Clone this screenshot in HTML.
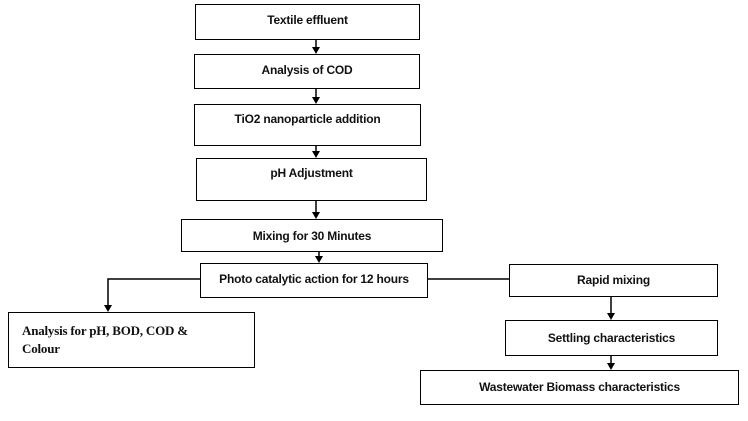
<!DOCTYPE html>
<html><head><meta charset="utf-8"><style>
body{margin:0;width:748px;height:421px;background:#fff;position:relative;overflow:hidden;font-family:"Liberation Sans",sans-serif;}
.b{position:absolute;border:1.5px solid #000;box-sizing:border-box;font-size:12px;font-weight:bold;text-align:center;color:#111;letter-spacing:-0.2px}
.l{position:absolute;background:#000}
svg{position:absolute;left:0;top:0}
</style></head><body>
<div class="b" style="left:195px;top:4px;width:225px;height:36px;padding-top:8px">Textile effluent</div>
<div class="b" style="left:194px;top:54px;width:226px;height:35px;padding-top:8px">Analysis of COD</div>
<div class="b" style="left:194px;top:104px;width:227px;height:42px;padding-top:7px">TiO2 nanoparticle addition</div>
<div class="b" style="left:196px;top:158px;width:231px;height:43px;padding-top:7px">pH Adjustment</div>
<div class="b" style="left:181px;top:219px;width:262px;height:33px;padding-top:9px">Mixing for 30 Minutes</div>
<div class="b" style="left:200px;top:263px;width:228px;height:35px;padding-top:8px">Photo catalytic action for 12 hours</div>
<div class="b" style="left:8px;top:312px;width:247px;height:56px;padding:9px 0 0 13px;text-align:left;font-family:'Liberation Serif',serif;font-size:13px;line-height:18px">Analysis for pH, BOD, COD &amp;<br>Colour</div>
<div class="b" style="left:509px;top:264px;width:209px;height:33px;padding-top:8px">Rapid mixing</div>
<div class="b" style="left:505px;top:320px;width:213px;height:36px;padding-top:10px">Settling characteristics</div>
<div class="b" style="left:420px;top:370px;width:319px;height:35px;padding-top:9px">Wastewater Biomass characteristics</div>
<svg width="748" height="421">
<g stroke="#000" stroke-width="1.5" fill="none">
<line x1="316" y1="40" x2="316" y2="48"/>
<line x1="316" y1="89" x2="316" y2="98"/>
<line x1="316" y1="146" x2="316" y2="152"/>
<line x1="316" y1="201" x2="316" y2="213"/>
<line x1="319" y1="252" x2="319" y2="257"/>
<polyline points="200,279 108,279 108,306"/>
<line x1="428" y1="279" x2="509" y2="279"/>
<line x1="611" y1="297" x2="611" y2="314"/>
<line x1="611" y1="356" x2="611" y2="364"/>
</g>
<g fill="#000">
<polygon points="312,47 320,47 316,54"/>
<polygon points="312,97 320,97 316,104"/>
<polygon points="312,151 320,151 316,158"/>
<polygon points="312,212 320,212 316,219"/>
<polygon points="315,256 323,256 319,263"/>
<polygon points="104,305 112,305 108,312"/>
<polygon points="607,313 615,313 611,320"/>
<polygon points="607,363 615,363 611,370"/>
</g>
</svg>
</body></html>
